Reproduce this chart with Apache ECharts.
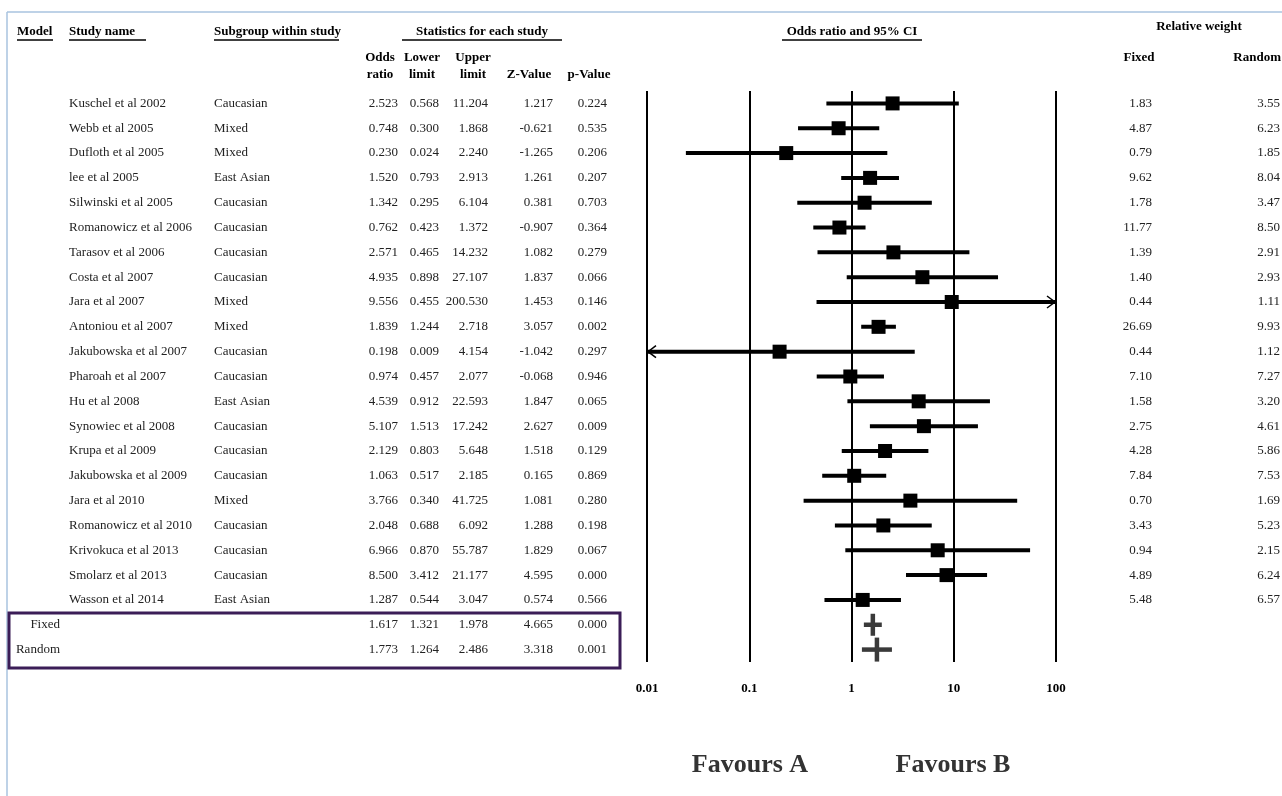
<!DOCTYPE html>
<html><head><meta charset="utf-8">
<script src="https://cdn.jsdelivr.net/npm/echarts@6/dist/echarts.min.js"></script>
<style>html,body{margin:0;padding:0;background:#fff}#c{width:1282px;height:796px}</style>
</head><body><div id="c"></div>
<script>
const studies = ['Kuschel et al 2002','Webb et al 2005','Dufloth et al 2005','lee et al 2005','Silwinski et al 2005','Romanowicz et al 2006','Tarasov et al 2006','Costa et al 2007','Jara et al 2007','Antoniou et al 2007','Jakubowska et al 2007','Pharoah et al 2007','Hu et al 2008','Synowiec et al 2008','Krupa et al 2009','Jakubowska et al 2009','Jara et al 2010','Romanowicz et al 2010','Krivokuca et al 2013','Smolarz et al 2013','Wasson et al 2014'];
const subgroups = ['Caucasian','Mixed','Mixed','East Asian','Caucasian','Caucasian','Caucasian','Caucasian','Mixed','Mixed','Caucasian','Caucasian','East Asian','Caucasian','Caucasian','Caucasian','Mixed','Caucasian','Caucasian','Caucasian','East Asian'];
const oddsRatio = [2.523,0.748,0.230,1.520,1.342,0.762,2.571,4.935,9.556,1.839,0.198,0.974,4.539,5.107,2.129,1.063,3.766,2.048,6.966,8.500,1.287];
const lowerLimit = [0.568,0.300,0.024,0.793,0.295,0.423,0.465,0.898,0.455,1.244,0.009,0.457,0.912,1.513,0.803,0.517,0.340,0.688,0.870,3.412,0.544];
const upperLimit = [11.204,1.868,2.240,2.913,6.104,1.372,14.232,27.107,200.530,2.718,4.154,2.077,22.593,17.242,5.648,2.185,41.725,6.092,55.787,21.177,3.047];
const zValue = ['1.217','-0.621','-1.265','1.261','0.381','-0.907','1.082','1.837','1.453','3.057','-1.042','-0.068','1.847','2.627','1.518','0.165','1.081','1.288','1.829','4.595','0.574'];
const pValue = ['0.224','0.535','0.206','0.207','0.703','0.364','0.279','0.066','0.146','0.002','0.297','0.946','0.065','0.009','0.129','0.869','0.280','0.198','0.067','0.000','0.566'];
const weightFixed = ['1.83','4.87','0.79','9.62','1.78','11.77','1.39','1.40','0.44','26.69','0.44','7.10','1.58','2.75','4.28','7.84','0.70','3.43','0.94','4.89','5.48'];
const weightRandom = ['3.55','6.23','1.85','8.04','3.47','8.50','2.91','2.93','1.11','9.93','1.12','7.27','3.20','4.61','5.86','7.53','1.69','5.23','2.15','6.24','6.57'];
const summaryModels = ['Fixed','Random'];
const summaryOR = [1.617,1.773];
const summaryLower = [1.321,1.264];
const summaryUpper = [1.978,2.486];
const summaryZ = ['4.665','3.318'];
const summaryP = ['0.000','0.001'];
const tickLabels = ['0.01','0.1','1','10','100'];

const X_MIN = 0.01, X_MAX = 100;
const SERIF = 'Liberation Serif';
const nStudies = studies.length;
const fmt = v => v.toFixed(3);

const studyData = studies.map((s,i)=>[i, oddsRatio[i], lowerLimit[i], upperLimit[i]]);
const summaryData = summaryModels.map((m,k)=>[nStudies+k, summaryOR[k], summaryLower[k], summaryUpper[k]]);

const txt = (x, y, text, align, opts) => Object.assign({
  type:'text', x, y,
  style: Object.assign({text, textAlign: align||'left', textVerticalAlign:'middle', font: '13px "'+SERIF+'"', fill:'#222'}, opts||{})
});
const bold = (x,y,text,align,size)=>txt(x,y,text,align,{font:'bold '+(size||13)+'px "'+SERIF+'"', fill:'#000'});
const uline = (x1,x2,y)=>({type:'line', shape:{x1,y1:y,x2,y2:y}, style:{stroke:'#000', lineWidth:1.5}});

// column positions (layout only)
const COL = {study:69, sub:214, or:398, lo:439, hi:488, z:553, p:607, wf:1152, wr:1280, model:60};

const chart = echarts.init(document.getElementById('c'), null, {renderer:'canvas'});
chart.setOption({
  animation:false,
  backgroundColor:'#fff',
  grid:{left:647, width:409, top:91, height:571},
  xAxis:{type:'log', logBase:10, min:X_MIN, max:X_MAX, splitNumber:4,
    axisLine:{show:false}, axisTick:{show:false},
    splitLine:{show:true, lineStyle:{color:'#000', width:2}},
    axisLabel:{margin:20, fontFamily:SERIF, fontWeight:'bold', fontSize:13, color:'#000',
      formatter:v=>tickLabels[Math.round(Math.log10(v))+2]}},
  yAxis:{type:'value', inverse:true, min:-0.5, max:nStudies+1.5, show:false},
  graphic:[
    {type:'line', shape:{x1:7,y1:12,x2:1282,y2:12}, style:{stroke:'#a9c3df', lineWidth:1.5}},
    {type:'line', shape:{x1:7,y1:12,x2:7,y2:796}, style:{stroke:'#a9c3df', lineWidth:1.5}},
    bold(17,32,'Model'), uline(17,53,40),
    bold(69,32,'Study name'), uline(69,146,40),
    bold(214,32,'Subgroup within study'), uline(214,339,40),
    bold(482,32,'Statistics for each study','center'), uline(402,562,40),
    bold(852,32,'Odds ratio and 95% CI','center'), uline(782,922,40),
    bold(1199,27,'Relative weight','center'),
    bold(1139,58,'Fixed','center'), bold(1281,58,'Random','right'),
    bold(380,58,'Odds','center'), bold(380,75,'ratio','center'),
    bold(422,58,'Lower','center'), bold(422,75,'limit','center'),
    bold(473,58,'Upper','center'), bold(473,75,'limit','center'),
    bold(529,75,'Z-Value','center'), bold(589,75,'p-Value','center'),
    {type:'rect', shape:{x:9,y:613,width:611,height:55}, style:{fill:null, stroke:'#3b1d57', lineWidth:3}},
    txt(750,765,'Favours A','center',{font:'bold 26px "'+SERIF+'"', fill:'#333'}),
    txt(953,765,'Favours B','center',{font:'bold 26px "'+SERIF+'"', fill:'#333'})
  ],
  series:[
    {type:'custom', name:'studies', clip:false, data:studyData, encode:{x:[1,2,3], y:0},
      renderItem:(params, api)=>{
        const i = api.value(0), o = api.value(1), lo = api.value(2), hi = api.value(3);
        const pLo = api.coord([Math.max(lo,X_MIN), i]);
        const pHi = api.coord([Math.min(hi,X_MAX), i]);
        const pC = api.coord([o, i]);
        const y = pC[1];
        const ch = [
          {type:'line', shape:{x1:pLo[0],y1:y,x2:pHi[0],y2:y}, style:{stroke:'#000', lineWidth:4}},
          {type:'rect', shape:{x:pC[0]-7,y:y-7,width:14,height:14}, style:{fill:'#000'}}
        ];
        if (lo < X_MIN) ch.push({type:'polyline', shape:{points:[[pLo[0]+9,y-6],[pLo[0]+1,y],[pLo[0]+9,y+6]]}, style:{stroke:'#000', lineWidth:1.5, fill:null}});
        if (hi > X_MAX) ch.push({type:'polyline', shape:{points:[[pHi[0]-9,y-6],[pHi[0]-1,y],[pHi[0]-9,y+6]]}, style:{stroke:'#000', lineWidth:1.5, fill:null}});
        ch.push(txt(COL.study,y,studies[i]), txt(COL.sub,y,subgroups[i]),
          txt(COL.or,y,fmt(oddsRatio[i]),'right'), txt(COL.lo,y,fmt(lowerLimit[i]),'right'),
          txt(COL.hi,y,fmt(upperLimit[i]),'right'), txt(COL.z,y,zValue[i],'right'),
          txt(COL.p,y,pValue[i],'right'), txt(COL.wf,y,weightFixed[i],'right'),
          txt(COL.wr,y,weightRandom[i],'right'));
        return {type:'group', children:ch};
      }},
    {type:'custom', name:'summary', clip:false, data:summaryData, encode:{x:[1,2,3], y:0},
      renderItem:(params, api)=>{
        const k = params.dataIndex;
        const i = api.value(0), o = api.value(1), lo = api.value(2), hi = api.value(3);
        const pLo = api.coord([lo, i]), pHi = api.coord([hi, i]), pC = api.coord([o, i]);
        const y = pC[1];
        const h = k===0 ? 11 : 12;
        const ch = [
          {type:'line', shape:{x1:pLo[0],y1:y,x2:pHi[0],y2:y}, style:{stroke:'#3a3a3a', lineWidth:4.5}},
          {type:'line', shape:{x1:pC[0],y1:y-h,x2:pC[0],y2:y+h}, style:{stroke:'#3a3a3a', lineWidth:4.5}},
          txt(COL.model,y,summaryModels[k],'right'),
          txt(COL.or,y,fmt(summaryOR[k]),'right'), txt(COL.lo,y,fmt(summaryLower[k]),'right'),
          txt(COL.hi,y,fmt(summaryUpper[k]),'right'), txt(COL.z,y,summaryZ[k],'right'),
          txt(COL.p,y,summaryP[k],'right')
        ];
        return {type:'group', children:ch};
      }}
  ]
});
</script></body></html>
